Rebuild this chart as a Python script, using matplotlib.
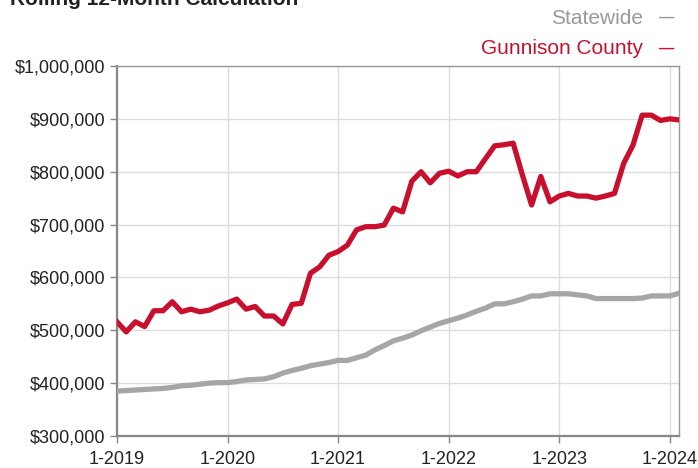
import matplotlib
matplotlib.use('Agg')
import matplotlib.pyplot as plt
from matplotlib.ticker import FuncFormatter

plt.rcParams['font.family'] = ['Liberation Sans', 'DejaVu Sans']

# Monthly values, 1-2019 through 2-2024 (rolling 12-month)
gunnison = [
    516000, 497000, 516000, 507000, 537000, 537000, 554000, 535000, 540000, 535000,
    538000, 546000, 552000, 559000, 540000, 545000, 527000, 527000, 512000, 549000,
    551000, 608000, 620000, 642000, 649000, 661000, 690000, 696000, 696000, 699000,
    731000, 724000, 782000, 800000, 779000, 797000, 801000, 792000, 800000, 800000,
    825000, 849000, 851000, 854000, 794000, 737000, 791000, 743000, 754000, 759000,
    754000, 754000, 750000, 754000, 759000, 816000, 850000, 907000, 907000, 897000,
    900000, 898000,
]
statewide = [
    385000, 386000, 387000, 388000, 389000, 390000, 392000, 395000, 396000, 398000,
    400000, 401000, 401000, 403000, 406000, 407000, 408000, 412000, 419000, 424000,
    428000, 433000, 436000, 439000, 443000, 443000, 448000, 453000, 463000, 471000,
    480000, 485000, 491000, 499000, 506000, 513000, 518000, 523000, 529000, 536000,
    542000, 550000, 550000, 554000, 559000, 565000, 565000, 569000, 569000, 569000,
    567000, 565000, 560000, 560000, 560000, 560000, 560000, 561000, 565000, 565000,
    565000, 570000,
]
tick_labels = ['1-2019', '1-2020', '1-2021', '1-2022', '1-2023', '1-2024']
series_names = ['Statewide', 'Gunnison County']

RED = '#c8102e'
GRAY = '#a6a6a6'

months = list(range(len(gunnison)))

fig = plt.figure(figsize=(6.98, 4.68), dpi=100)
ax = fig.add_axes([117 / 698, 1 - 436 / 468, (679 - 117) / 698, (436 - 66) / 468])

ax.plot(months, statewide, color=GRAY, lw=3.8, solid_joinstyle='round', zorder=3)
ax.plot(months, gunnison, color=RED, lw=3.8, solid_joinstyle='round', zorder=4)

ax.set_xlim(0, len(months) - 1)
ax.set_ylim(300000, 1000000)
ax.set_xticks(range(0, len(months), 12))
ax.set_xticklabels(tick_labels)
ax.set_yticks(range(300000, 1000001, 100000))
ax.yaxis.set_major_formatter(FuncFormatter(lambda v, p: f'${v:,.0f}'))

ax.grid(True, color='#dddddd', lw=1)
ax.set_axisbelow(True)
ax.tick_params(axis='both', labelsize=13, colors='#888888', labelcolor='#222222',
               length=5, width=1, direction='out')
ax.tick_params(axis='x', pad=6)

for side in ['left', 'bottom']:
    ax.spines[side].set_color('#888888')
    ax.spines[side].set_linewidth(1.6)
for side in ['top', 'right']:
    ax.spines[side].set_color('#999999')
    ax.spines[side].set_linewidth(1.0)

# title (partly cut off at the top of the image)
fig.text(10 / 698, 1 - 5 / 468, 'Rolling 12-Month Calculation', fontsize=15,
         fontweight='bold', color='#222222', ha='left', va='baseline')

# legend drawn as coloured text
for name, color, ypix in [(series_names[0], '#999999', 18), (series_names[1], RED, 49)]:
    fig.text(643 / 698, 1 - ypix / 468, name, fontsize=15, color=color,
             ha='right', va='center')
    fig.text(674 / 698, 1 - ypix / 468, '—', fontsize=11, fontweight='bold',
             color=color, ha='right', va='center')

fig.savefig('out.png', dpi=100)
